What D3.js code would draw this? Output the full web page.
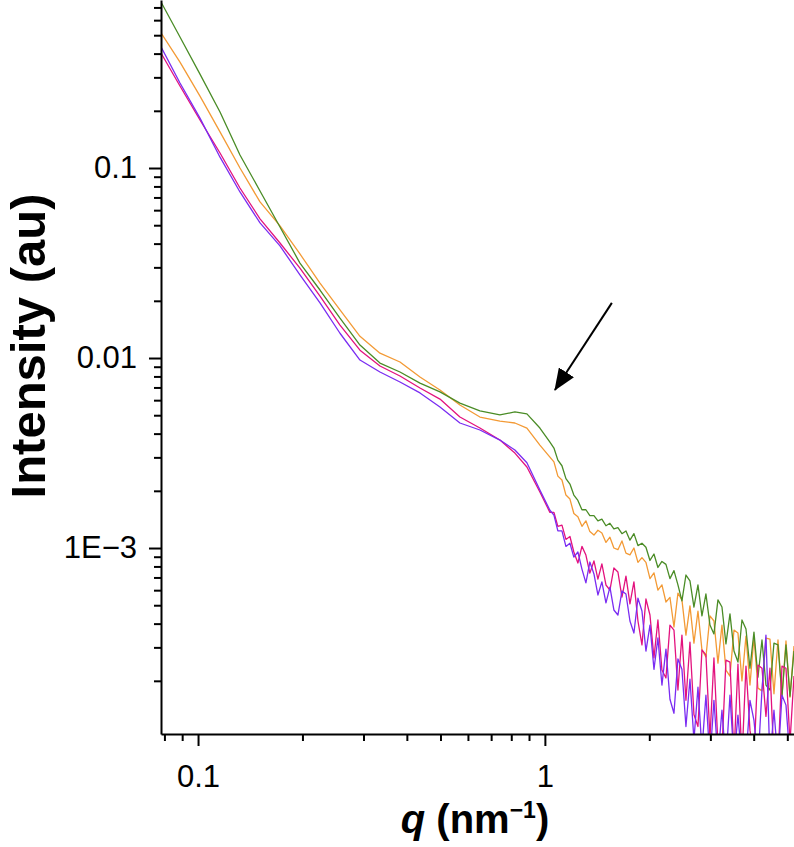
<!DOCTYPE html>
<html>
<head>
<meta charset="utf-8">
<script src="https://cdn.jsdelivr.net/npm/d3@7"></script>
<style>
  body { margin: 0; background: #fff; }
  svg { display: block; }
</style>
</head>
<body>
<script>
var width = 794;
var height = 847;
var plotLeft = 161, plotRight = 794, plotTop = 0, plotBottom = 734;

// scattering vector q (nm^-1), shared by all four curves
var q = [0.0782, 0.0887, 0.1013, 0.1157, 0.1321, 0.1509, 0.1723, 0.1967, 0.2247, 0.2566,
  0.2930, 0.3346, 0.3821, 0.4364, 0.4983, 0.5689, 0.6497, 0.7419, 0.8195, 0.8875, 0.9674,
  1.034, 1.062, 1.090, 1.120, 1.150, 1.181, 1.212, 1.245, 1.279, 1.313,
  1.348, 1.385, 1.422, 1.460, 1.500, 1.540, 1.581, 1.624, 1.668, 1.713,
  1.759, 1.806, 1.855, 1.905, 1.956, 2.009, 2.063, 2.118, 2.175, 2.234,
  2.294, 2.356, 2.419, 2.484, 2.551, 2.620, 2.690, 2.763, 2.837, 2.913,
  2.992, 3.072, 3.155, 3.240, 3.327, 3.417, 3.509, 3.603, 3.700, 3.800,
  3.902, 4.007, 4.115, 4.226, 4.339, 4.456, 4.576, 4.700, 4.826, 4.956,
  5.090, 5.227];

var greenI = [0.748, 0.489, 0.312, 0.197, 0.117, 0.0757, 0.0489, 0.0316, 0.0228, 0.0162,
  0.0117, 0.00941, 0.00844, 0.00738, 0.00663, 0.00579, 0.00527, 0.00502, 0.00520, 0.00508, 0.00428,
  3.61e-3, 3.36e-3, 2.90e-3, 2.71e-3, 2.32e-3, 2.17e-3, 1.90e-3, 1.78e-3, 1.59e-3, 1.59e-3,
  1.48e-3, 1.48e-3, 1.39e-3, 1.42e-3, 1.31e-3, 1.35e-3, 1.26e-3, 1.28e-3, 1.19e-3, 1.23e-3,
  1.10e-3, 1.19e-3, 1.03e-3, 1.06e-3, 1.01e-3, 8.6e-4, 9.3e-4, 7.9e-4, 8.5e-4, 8.2e-4,
  6.9e-4, 7.6e-4, 6.4e-4, 5.27e-4, 7.21e-4, 6.71e-4, 4.89e-4, 6.39e-4, 4.39e-4, 5.73e-4,
  3.93e-4, 3.53e-4, 5.33e-4, 4.89e-4, 3.13e-4, 4.50e-4, 2.87e-4, 2.51e-4, 4.18e-4, 3.75e-4,
  2.33e-4, 3.61e-4, 2.09e-4, 3.28e-4, 1.90e-4, 1.79e-4, 3.16e-4, 3.09e-4, 1.66e-4, 3.09e-4,
  1.66e-4, 2.87e-4];

var orangeI = [0.514, 0.361, 0.239, 0.155, 0.100, 0.0663, 0.0496, 0.0353, 0.0248, 0.0179,
  0.0130, 0.0106, 0.00953, 0.00794, 0.00679, 0.00566, 0.00489, 0.00466, 0.00455, 0.00428, 0.00348,
  3.01e-3, 2.84e-3, 2.39e-3, 2.28e-3, 1.90e-3, 1.81e-3, 1.52e-3, 1.46e-3, 1.30e-3, 1.39e-3,
  1.22e-3, 1.17e-3, 1.24e-3, 1.20e-3, 1.07e-3, 1.14e-3, 1.00e-3, 9.8e-4, 1.09e-3, 9.4e-4,
  9.2e-4, 1.00e-3, 8.4e-4, 8.9e-4, 8.4e-4, 6.9e-4, 7.4e-4, 6.0e-4, 6.4e-4, 5.2e-4,
  5.5e-4, 3.84e-4, 5.79e-4, 5.33e-4, 3.48e-4, 4.96e-4, 3.16e-4, 4.66e-4, 2.91e-4, 2.67e-4,
  4.39e-4, 4.13e-4, 2.48e-4, 3.93e-4, 2.28e-4, 2.12e-4, 3.70e-4, 3.57e-4, 2.00e-4, 3.44e-4,
  1.90e-4, 3.40e-4, 1.83e-4, 1.77e-4, 3.36e-4, 3.32e-4, 1.71e-4, 3.28e-4, 1.66e-4, 3.24e-4,
  1.64e-4, 3.05e-4];

var magentaI = [0.403, 0.270, 0.179, 0.120, 0.0785, 0.0540, 0.0403, 0.0297, 0.0212, 0.0149,
  0.0110, 0.00908, 0.00804, 0.00695, 0.00608, 0.00489, 0.00428, 0.00370, 0.00316, 0.00267, 0.00197,
  1.54e-3, 1.54e-3, 1.30e-3, 1.32e-3, 1.11e-3, 1.15e-3, 9.53e-4, 8.34e-4, 1.02e-3, 9.18e-4,
  7.38e-4, 8.55e-4, 6.86e-4, 8.24e-4, 6.39e-4, 6.01e-4, 7.85e-4, 7.48e-4, 5.52e-4, 7.12e-4,
  5.08e-4, 6.63e-4, 4.13e-4, 3.09e-4, 5.39e-4, 4.44e-4, 2.64e-4, 4.18e-4, 2.28e-4, 2.07e-4,
  3.93e-4, 3.70e-4, 1.79e-4, 3.48e-4, 1.58e-4, 3.20e-4, 1.33e-4, 1.15e-4, 2.91e-4, 2.74e-4,
  1.00e-4, 2.64e-4, 9.18e-5, 8.65e-5, 2.57e-4, 2.51e-4, 8.04e-5, 2.45e-4, 7.66e-5, 2.39e-4,
  1.10e-4, 7.8e-5, 2.42e-4, 2.33e-4, 1.30e-4, 2.33e-4, 7.7e-5, 7.5e-5, 2.39e-4, 2.33e-4,
  9.5e-5, 2.12e-4];

var purpleI = [0.434, 0.280, 0.183, 0.114, 0.0748, 0.0514, 0.0389, 0.0274, 0.0195, 0.0135,
  0.00976, 0.00844, 0.00748, 0.00655, 0.00552, 0.00455, 0.00418, 0.00370, 0.00328, 0.00281, 0.00202,
  1.58e-3, 1.49e-3, 1.23e-3, 1.23e-3, 1.02e-3, 1.06e-3, 8.96e-4, 9.53e-4, 7.75e-4, 6.55e-4,
  8.44e-4, 7.30e-4, 5.66e-4, 6.63e-4, 5.14e-4, 6.23e-4, 4.72e-4, 4.44e-4, 5.94e-4, 5.73e-4,
  4.13e-4, 3.57e-4, 5.45e-4, 4.66e-4, 2.87e-4, 3.93e-4, 2.30e-4, 3.36e-4, 1.90e-4, 2.94e-4,
  1.60e-4, 1.35e-4, 2.61e-4, 2.30e-4, 1.15e-4, 2.04e-4, 9.76e-5, 1.85e-4, 8.65e-5, 1.68e-4,
  7.66e-5, 1.58e-4, 7.85e-5, 1.40e-4, 7.4e-5, 1.68e-4, 7.7e-5, 1.32e-4, 7.5e-5, 7.8e-5,
  1.58e-4, 1.24e-4, 7.4e-5, 1.79e-4, 3.48e-4, 7.6e-5, 1.40e-4, 7.5e-5, 1.68e-4, 1.49e-4,
  7.7e-5, 7.6e-5];

var seriesNames = ["orange", "green", "magenta", "purple"];
var seriesColors = ["#f39a35", "#4a8c26", "#e3127e", "#7a2cf2"];
var seriesValues = [orangeI, greenI, magentaI, purpleI];

var xMajor = [0.1, 1];
var xMajorLabels = ["0.1", "1"];
var xMinor = [0.08, 0.09, 0.2, 0.3, 0.4, 0.5, 0.6, 0.7, 0.8, 0.9, 2, 3, 4, 5];
var yMajor = [0.1, 0.01, 0.001];
var yMajorLabels = ["0.1", "0.01", "1E\u22123"];
var yMinor = [0.0002, 0.0003, 0.0004, 0.0005, 0.0006, 0.0007, 0.0008, 0.0009,
  0.002, 0.003, 0.004, 0.005, 0.006, 0.007, 0.008, 0.009,
  0.02, 0.03, 0.04, 0.05, 0.06, 0.07, 0.08, 0.09,
  0.2, 0.3, 0.4, 0.5, 0.6, 0.7];

// arrow pointing at the peak near q ~ 1 (tail, tip)
var arrowQ = [1.56, 1.069];
var arrowI = [0.0195, 0.00679];

var font = "Arial, 'Liberation Sans', sans-serif";

var svg = d3.select("body")
    .append("svg")
    .attr("width", width)
    .attr("height", height)
    .style("background-color", "white");

var x = d3.scaleLog().domain([0.0782, 5.227]).range([plotLeft, plotRight]);
var y = d3.scaleLog().domain([1.05e-4, 0.766]).range([plotBottom, plotTop]);

svg.append("clipPath")
    .attr("id", "plotClip")
  .append("rect")
    .attr("x", plotLeft)
    .attr("y", plotTop)
    .attr("width", plotRight - plotLeft)
    .attr("height", plotBottom - plotTop);

var line = d3.line()
    .x(function(d) { return x(d.q); })
    .y(function(d) { return y(d.i); });

var curves = svg.append("g").attr("clip-path", "url(#plotClip)");

seriesNames.forEach(function(name, k) {
    var pts = q.map(function(qv, j) { return { q: qv, i: seriesValues[k][j] }; });
    curves.append("path")
        .datum(pts)
        .attr("class", "curve " + name)
        .attr("d", line)
        .attr("fill", "none")
        .attr("stroke", seriesColors[k])
        .attr("stroke-width", 1.3)
        .attr("stroke-linejoin", "round");
});

// axes
function styleAxis(g) {
    g.selectAll("path.domain").attr("stroke", "#000").attr("stroke-width", 2);
    g.selectAll(".tick line").attr("stroke", "#000").attr("stroke-width", 2);
    g.selectAll("text")
        .attr("fill", "#000")
        .style("font-family", font)
        .style("font-size", "31px");
}

var xAxisMinor = svg.append("g")
    .attr("transform", "translate(0," + plotBottom + ")")
    .call(d3.axisBottom(x).tickValues(xMinor).tickSize(7).tickSizeOuter(0).tickFormat(""));
xAxisMinor.select("path.domain").remove();
styleAxis(xAxisMinor);

var xAxis = svg.append("g")
    .attr("transform", "translate(0," + plotBottom + ")")
    .call(d3.axisBottom(x).tickValues(xMajor).tickSize(12).tickSizeOuter(0).tickPadding(19)
        .tickFormat(function(d, i) { return xMajorLabels[i]; }));
styleAxis(xAxis);

var yAxisMinor = svg.append("g")
    .attr("transform", "translate(" + plotLeft + ",0)")
    .call(d3.axisLeft(y).tickValues(yMinor).tickSize(7).tickSizeOuter(0).tickFormat(""));
yAxisMinor.select("path.domain").remove();
styleAxis(yAxisMinor);

var yAxis = svg.append("g")
    .attr("transform", "translate(" + plotLeft + ",0)")
    .call(d3.axisLeft(y).tickValues(yMajor).tickSize(12).tickSizeOuter(0).tickPadding(12)
        .tickFormat(function(d, i) { return yMajorLabels[i]; }));
styleAxis(yAxis);

// axis titles
svg.append("text")
    .attr("transform", "translate(45," + 346 + ") rotate(-90)")
    .attr("text-anchor", "middle")
    .style("font-family", font)
    .style("font-size", "49px")
    .style("font-weight", "bold")
    .text("Intensity (au)");

var xTitle = svg.append("text")
    .attr("x", 475)
    .attr("y", 833)
    .attr("text-anchor", "middle")
    .style("font-family", font)
    .style("font-size", "40px")
    .style("font-weight", "bold");
xTitle.append("tspan").style("font-style", "italic").text("q");
xTitle.append("tspan").text(" (nm");
xTitle.append("tspan").attr("dy", -15).style("font-size", "23px").text("\u22121");
xTitle.append("tspan").attr("dy", 15).text(")");

// arrow annotation
svg.append("defs").append("marker")
    .attr("id", "arrowHead")
    .attr("markerUnits", "userSpaceOnUse")
    .attr("viewBox", "0 0 22 18")
    .attr("refX", 21)
    .attr("refY", 9)
    .attr("markerWidth", 22)
    .attr("markerHeight", 18)
    .attr("orient", "auto")
  .append("path")
    .attr("d", "M0,0 L22,9 L0,18 Z")
    .attr("fill", "#000");

svg.append("line")
    .attr("x1", x(arrowQ[0]))
    .attr("y1", y(arrowI[0]))
    .attr("x2", x(arrowQ[1]))
    .attr("y2", y(arrowI[1]))
    .attr("stroke", "#000")
    .attr("stroke-width", 2)
    .attr("marker-end", "url(#arrowHead)");
</script>
</body>
</html>
